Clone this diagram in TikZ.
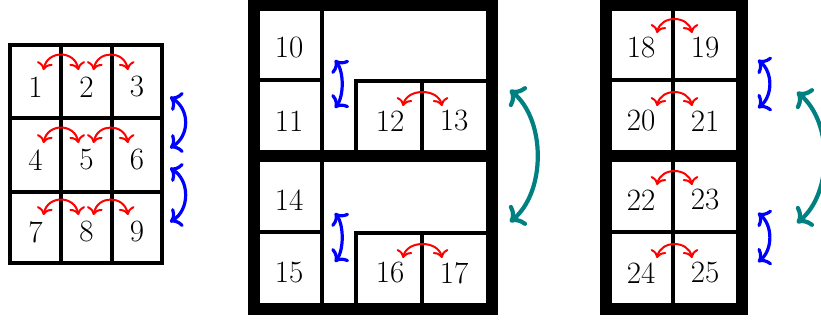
\documentclass[tikz,border=0pt]{standalone}
\usepackage{fontspec}
\usepackage{xcolor}
\usepackage{tikz}
\usetikzlibrary{arrows.meta}

\begin{document}
\begin{tikzpicture}[
    x=0.5pt, y=-0.5pt,
    font=\fontsize{15.5}{18}\selectfont,
    % --- line styles -------------------------------------------------
    grid/.style={draw, line width=2pt},
    frame/.style={draw, line width=6pt},
    wall/.style={draw, line width=1.7pt},
    % --- swap arrows -------------------------------------------------
    flip/.style={<->, red, line width=1pt},
    hop/.style={<->, blue, line width=1.6pt},
    jump/.style={<->, teal, line width=2.1pt},
    lbl/.style={inner sep=0pt}
]
\useasboundingbox (0,0) rectangle (821,320);
\clip (0,0) rectangle (821,320);

% --- left: plain 3x3 grid -------------------------------------------
\draw[grid] (10,45) rectangle (162,263);
\draw[grid] (61,45) -- (61,263);
\draw[grid] (112,45) -- (112,263);
\draw[grid] (10,118) -- (162,118);
\draw[grid] (10,192) -- (162,192);

\node[lbl] (n1) at (35.5,87) {1};
\node[lbl] (n2) at (86.5,87) {2};
\node[lbl] (n3) at (137,87) {3};
\node[lbl] (n4) at (35.5,160) {4};
\node[lbl] (n5) at (86.5,160) {5};
\node[lbl] (n6) at (137,160) {6};
\node[lbl] (n7) at (35.5,232) {7};
\node[lbl] (n8) at (86.5,232) {8};
\node[lbl] (n9) at (137,232) {9};

% --- middle: two blocks, each with a side box ----------------------
\draw[frame] (254,5) rectangle (492,156);
\draw[frame] (254,156) rectangle (492,309);
\draw[wall] (322,5) -- (322,309);
\draw[wall] (254,80) -- (322,80);
\draw[wall] (254,232) -- (322,232);
\draw[wall] (356,156) -- (356,81) -- (492,81);
\draw[wall] (356,309) -- (356,233) -- (492,233);
\draw[wall] (422,81) -- (422,156);
\draw[wall] (422,233) -- (422,309);

\node[lbl] (n10) at (289,48) {10};
\node[lbl] (n11) at (289,121) {11};
\node[lbl] (n12) at (390,121) {12};
\node[lbl] (n13) at (454,121) {13};
\node[lbl] (n14) at (289,200) {14};
\node[lbl] (n15) at (289,273) {15};
\node[lbl] (n16) at (390,273) {16};
\node[lbl] (n17) at (454,273) {17};

% --- right: two 2x2 blocks ------------------------------------------
\draw[frame] (606,5) rectangle (742,156);
\draw[frame] (606,156) rectangle (742,309);
\draw[wall] (673,5) -- (673,309);
\draw[wall] (606,80) -- (742,80);
\draw[wall] (606,232) -- (742,232);

\node[lbl] (n18) at (641,48) {18};
\node[lbl] (n19) at (705,48) {19};
\node[lbl] (n20) at (641,121) {20};
\node[lbl] (n21) at (705,121) {21};
\node[lbl] (n22) at (641,200) {22};
\node[lbl] (n23) at (705,200) {23};
\node[lbl] (n24) at (641,273) {24};
\node[lbl] (n25) at (705,273) {25};

% --- red swaps inside rows ------------------------------------------
\draw[flip] ([shift={(8,-17)}]n1.center) .. controls +(4,-20) and +(-4,-20) .. ([shift={(-8,-17)}]n2.center);
\draw[flip] ([shift={(7,-17)}]n2.center) .. controls +(4,-20) and +(-4,-20) .. ([shift={(-9,-17)}]n3.center);
\draw[flip] ([shift={(8,-17)}]n4.center) .. controls +(4,-20) and +(-4,-20) .. ([shift={(-8,-17)}]n5.center);
\draw[flip] ([shift={(7,-17)}]n5.center) .. controls +(4,-20) and +(-4,-20) .. ([shift={(-9,-17)}]n6.center);
\draw[flip] ([shift={(8,-17)}]n7.center) .. controls +(4,-20) and +(-4,-20) .. ([shift={(-8,-17)}]n8.center);
\draw[flip] ([shift={(7,-17)}]n8.center) .. controls +(4,-20) and +(-4,-20) .. ([shift={(-9,-17)}]n9.center);

\draw[flip] ([shift={(13,-15)}]n12.center) .. controls +(4,-18) and +(-4,-18) .. ([shift={(-12,-15)}]n13.center);
\draw[flip] ([shift={(13,-15)}]n16.center) .. controls +(4,-18) and +(-4,-18) .. ([shift={(-12,-15)}]n17.center);

\draw[flip] ([shift={(16,-15)}]n18.center) .. controls +(4,-18) and +(-4,-18) .. ([shift={(-13,-15)}]n19.center);
\draw[flip] ([shift={(16,-15)}]n20.center) .. controls +(4,-18) and +(-4,-18) .. ([shift={(-13,-15)}]n21.center);
\draw[flip] ([shift={(16,-15)}]n22.center) .. controls +(4,-18) and +(-4,-18) .. ([shift={(-13,-15)}]n23.center);
\draw[flip] ([shift={(16,-15)}]n24.center) .. controls +(4,-18) and +(-4,-18) .. ([shift={(-13,-15)}]n25.center);

% --- blue swaps between rows ----------------------------------------
\draw[hop] ([shift={(33,10)}]n3.center) .. controls +(20,12) and +(20,-12) .. ([shift={(33,-12)}]n6.center);
\draw[hop] ([shift={(33,8)}]n6.center) .. controls +(20,12) and +(20,-12) .. ([shift={(33,-10)}]n9.center);

\draw[hop] ([shift={(46,12)}]n10.center) .. controls +(9,12) and +(9,-12) .. ([shift={(46,-13)}]n11.center);
\draw[hop] ([shift={(46,13)}]n14.center) .. controls +(9,12) and +(9,-12) .. ([shift={(46,-11)}]n15.center);

\draw[hop] ([shift={(53,12)}]n19.center) .. controls +(15,12) and +(15,-12) .. ([shift={(53,-13)}]n21.center);
\draw[hop] ([shift={(53,13)}]n23.center) .. controls +(15,12) and +(15,-12) .. ([shift={(53,-11)}]n25.center);

% --- teal swaps between blocks --------------------------------------
\draw[jump] ([shift={(56,-31)}]n13.center) .. controls +(36,30) and +(36,-30) .. ([shift={(56,-51)}]n17.center);
\draw[jump] ([shift={(92,-29)}]n21.center) .. controls +(36,30) and +(36,-30) .. ([shift={(92,-50)}]n25.center);

\end{tikzpicture}
\end{document}
